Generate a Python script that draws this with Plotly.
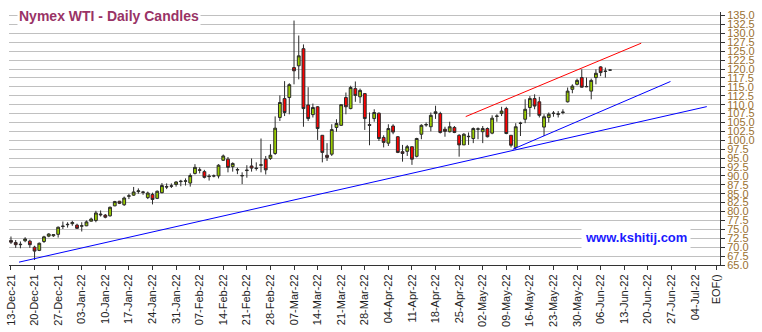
import plotly.graph_objects as go

# Nymex WTI daily OHLC, one entry per weekday starting 13-Dec-2021
opens = [71.9, 71.3, 70.7, 71.8, 71.7, 70.0, 69.1, 71.6, 73.1, 73.2,
         73.6, 75.8, 76.3, 76.6, 76.2, 75.9, 76.0, 77.3, 77.5, 79.3,
         79.0, 78.8, 81.6, 82.9, 81.9, 84.3, 84.6, 85.6, 85.5, 83.9,
         84.8, 83.7, 85.3, 87.0, 87.1, 87.6, 88.4, 88.5, 88.0, 90.7,
         91.7, 91.2, 89.8, 90.0, 90.0, 94.4, 94.7, 92.6, 91.8, 90.0,
         91.5, 92.8, 92.2, 93.0, 94.7, 94.9, 96.3, 106.4, 111.7, 112.0,
         120.4, 120.9, 125.7, 109.9, 107.2, 109.4, 101.4, 95.8, 96.1, 103.6,
         104.2, 112.0, 108.9, 114.5, 112.2, 113.1, 104.4, 106.1, 107.6, 100.8,
         99.2, 104.0, 101.0, 96.8, 96.9, 98.2, 95.5, 101.7, 104.3, 103.8,
         107.5, 107.5, 103.1, 102.4, 103.6, 101.4, 98.7, 101.0, 100.5, 103.1,
         102.4, 103.3, 102.0, 106.7, 107.5, 108.9, 101.4, 98.0, 104.7, 105.9,
         109.2, 111.7, 110.8, 103.7, 106.4, 107.5, 107.3, 107.8, 110.8, 114.3,
         115.7, 117.6, 115.0, 113.8, 117.6, 120.6, 119.3, 119.7]
highs = [73.0, 72.0, 71.6, 72.8, 72.1, 70.4, 71.3, 73.2, 73.9, 73.6,
         75.8, 77.2, 77.0, 77.4, 76.6, 77.0, 77.5, 78.3, 80.2, 80.3,
         79.3, 81.4, 83.0, 83.0, 84.2, 85.0, 86.9, 86.5, 85.8, 85.6,
         85.3, 85.9, 88.0, 87.9, 87.9, 88.5, 88.9, 89.3, 90.7, 93.3,
         92.4, 91.7, 90.5, 90.4, 93.3, 96.0, 95.3, 93.8, 92.3, 91.0,
         93.0, 94.9, 93.8, 100.5, 95.6, 98.9, 106.7, 112.6, 116.6, 116.0,
         133.6, 129.4, 126.9, 114.9, 110.3, 109.6, 101.4, 99.2, 104.5, 105.9,
         110.0, 113.4, 115.3, 116.5, 114.5, 113.1, 107.8, 108.7, 107.8, 101.4,
         104.5, 104.5, 101.2, 98.7, 98.7, 98.2, 100.7, 104.5, 105.0, 107.8,
         109.7, 108.0, 103.8, 105.2, 104.0, 101.7, 102.0, 102.2, 103.6, 103.6,
         104.0, 103.6, 107.0, 107.3, 109.4, 109.4, 101.4, 104.8, 105.2, 111.5,
         112.4, 112.9, 112.2, 107.3, 107.8, 108.2, 108.2, 108.7, 114.8, 115.7,
         117.3, 119.9, 117.6, 117.3, 119.9, 120.8, 120.4, 119.8]
lows = [70.9, 69.8, 69.7, 71.4, 69.8, 66.4, 68.9, 71.2, 72.8, 72.9,
        72.7, 75.1, 75.5, 76.0, 75.1, 74.4, 75.9, 77.2, 77.0, 78.6,
        78.1, 78.6, 81.5, 82.1, 81.6, 83.5, 84.4, 85.0, 84.7, 83.5,
        82.0, 83.5, 85.1, 86.3, 86.6, 87.0, 87.1, 87.3, 87.0, 90.4,
        90.7, 89.3, 88.7, 89.6, 89.3, 94.2, 91.0, 91.2, 90.5, 87.7,
        89.5, 91.2, 91.5, 91.0, 90.4, 94.5, 95.9, 105.4, 106.8, 107.3,
        115.7, 117.1, 103.8, 105.4, 106.4, 100.1, 93.8, 94.2, 95.6, 102.4,
        104.0, 107.3, 108.7, 110.8, 110.4, 102.9, 98.6, 105.2, 99.8, 98.0,
        98.4, 101.7, 96.4, 94.0, 95.6, 93.1, 95.2, 100.3, 103.8, 102.5,
        106.0, 101.9, 101.0, 102.2, 102.0, 95.4, 98.7, 98.7, 99.2, 100.3,
        99.2, 100.8, 101.7, 105.2, 106.8, 101.7, 98.0, 97.5, 101.2, 104.8,
        106.6, 108.7, 106.4, 101.2, 105.0, 106.6, 106.4, 107.3, 110.6, 113.2,
        115.4, 114.8, 114.9, 111.5, 115.7, 118.0, 117.6, 119.6]
closes = [71.4, 70.7, 70.8, 72.3, 70.7, 68.9, 71.1, 72.9, 73.7, 73.5,
          75.6, 75.9, 76.4, 76.9, 75.3, 76.0, 77.1, 77.9, 79.6, 79.1,
          78.4, 81.2, 82.8, 82.3, 83.8, 84.4, 85.5, 85.8, 85.4, 85.2,
          83.4, 85.7, 87.3, 86.9, 87.2, 88.3, 88.5, 88.6, 90.1, 92.4,
          91.6, 89.6, 89.9, 90.0, 93.0, 95.6, 92.4, 93.5, 91.7, 90.1,
          91.6, 92.2, 92.1, 93.1, 91.7, 95.8, 103.4, 110.6, 107.8, 115.6,
          119.5, 123.7, 108.9, 106.1, 109.2, 103.3, 96.6, 95.2, 103.0, 104.7,
          110.0, 109.4, 114.8, 112.6, 114.0, 106.1, 104.2, 107.8, 100.5, 99.4,
          103.3, 102.3, 96.6, 96.3, 98.2, 94.7, 100.5, 104.2, 104.4, 107.0,
          108.0, 102.2, 102.5, 103.8, 102.2, 98.7, 101.7, 101.1, 103.3, 103.2,
          103.3, 101.0, 106.2, 106.8, 108.2, 101.9, 98.6, 103.8, 104.8, 108.7,
          111.7, 109.6, 107.0, 106.6, 107.3, 107.6, 107.4, 107.9, 113.8, 115.2,
          116.8, 114.9, 115.1, 116.8, 118.8, 119.0, 119.4, 119.7]

# Weekly (Monday) labels for the trading-day axis, five weekdays per week
week_labels = ["13-Dec-21", "20-Dec-21", "27-Dec-21", "03-Jan-22", "10-Jan-22",
               "17-Jan-22", "24-Jan-22", "31-Jan-22", "07-Feb-22", "14-Feb-22",
               "21-Feb-22", "28-Feb-22", "07-Mar-22", "14-Mar-22", "21-Mar-22",
               "28-Mar-22", "04-Apr-22", "11-Apr-22", "18-Apr-22", "25-Apr-22",
               "02-May-22", "09-May-22", "16-May-22", "23-May-22", "30-May-22",
               "06-Jun-22", "13-Jun-22", "20-Jun-22", "27-Jun-22", "04-Jul-22"]
end_label = "EOF()"
end_pos = 149.5

# Trend lines (trading-day index, price)
red_line_x = [96.4, 133.6]
red_line_y = [106.65, 127.25]
blue_fast_x = [106.4, 139.8]
blue_fast_y = [97.5, 116.5]
blue_slow_x = [1.7, 147.5]
blue_slow_y = [65.8, 109.45]

price_ticks = [65.0 + 2.5 * k for k in range(29)]

days = list(range(len(opens)))
tick_pos = [5 * k for k in range(len(week_labels))] + [end_pos]
tick_txt = week_labels + [end_label]

fig = go.Figure()

for lx, ly, col in [(blue_slow_x, blue_slow_y, "#0000ff"),
                    (blue_fast_x, blue_fast_y, "#0000ff"),
                    (red_line_x, red_line_y, "#ff0000")]:
    fig.add_trace(go.Scatter(x=lx, y=ly, mode="lines",
                             line=dict(color=col, width=1),
                             showlegend=False, hoverinfo="skip"))

fig.add_trace(go.Candlestick(
    x=days, open=opens, high=highs, low=lows, close=closes,
    increasing=dict(fillcolor="#99cc00", line=dict(color="#2b2b2b", width=1)),
    decreasing=dict(fillcolor="#ff0000", line=dict(color="#2b2b2b", width=1)),
    whiskerwidth=0, showlegend=False))

fig.update_layout(
    width=762, height=332,
    margin=dict(l=5, r=42, t=12, b=66),
    paper_bgcolor="white", plot_bgcolor="white",
    boxgap=0.15,
    font=dict(family="Liberation Sans, Arial, sans-serif"),
    xaxis=dict(range=[-0.42, 150.3], tickmode="array", tickvals=tick_pos,
               ticktext=tick_txt, tickangle=-90, ticks="outside", ticklen=4,
               tickcolor="#333333", showline=True, linecolor="#333333",
               linewidth=1, showgrid=False, zeroline=False,
               tickfont=dict(size=11, color="#222222"),
               rangeslider=dict(visible=False)),
    yaxis=dict(range=[65, 136], side="right", tickmode="array",
               tickvals=price_ticks, ticktext=[f"{v:.1f}" for v in price_ticks],
               ticks="outside", ticklen=4, tickcolor="#333333",
               showline=True, linecolor="#333333", linewidth=1,
               showgrid=True, gridcolor="#c0c0c0", gridwidth=1,
               zeroline=False, tickfont=dict(size=11, color="#9a7030")),
    annotations=[
        dict(text="<b>Nymex WTI - Daily Candles</b>", xref="paper", yref="y",
             x=0.011, y=135, xanchor="left", yanchor="middle", showarrow=False,
             bgcolor="white", borderpad=1,
             font=dict(size=14, color="#993366")),
        dict(text="<b>www.kshitij.com</b>", xref="paper", yref="y",
             x=0.805, y=72.85, xanchor="left", yanchor="middle", showarrow=False,
             bgcolor="white", borderpad=3,
             font=dict(size=13, color="#1a1aff")),
    ],
)

fig.write_html("out.html")
